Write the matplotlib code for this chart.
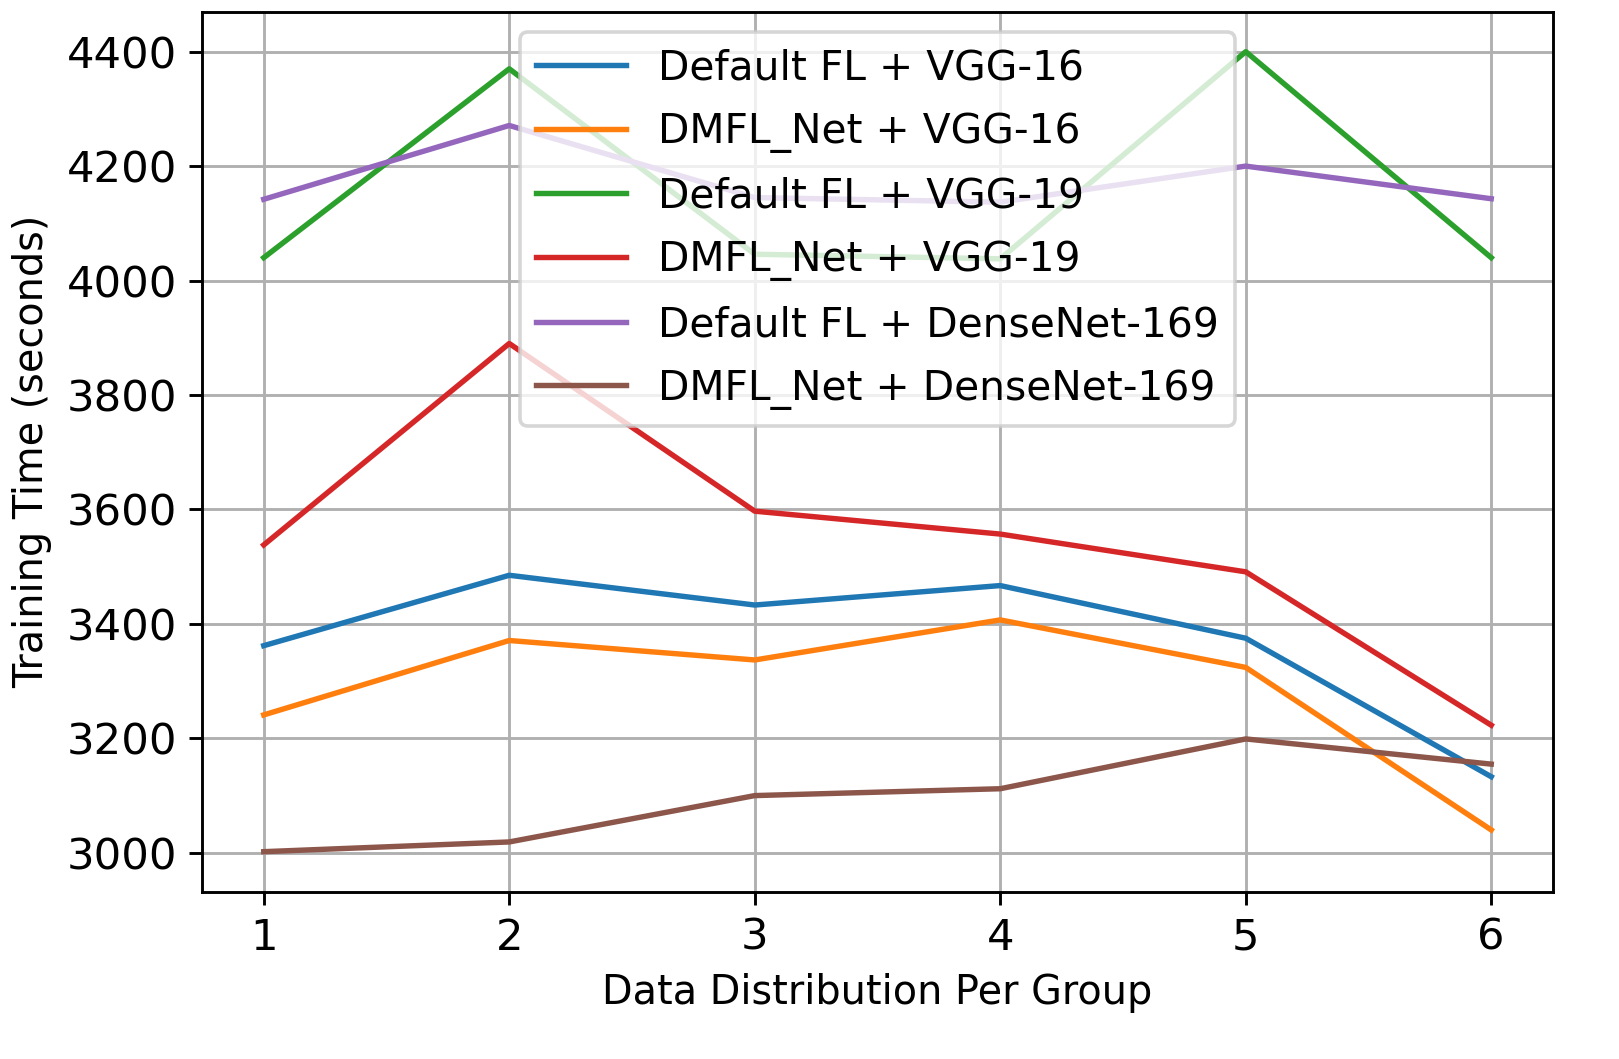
import matplotlib
matplotlib.use("Agg")
import matplotlib.pyplot as plt

# data distribution groups on x axis
groups = [1, 2, 3, 4, 5, 6]

# training time (seconds) per method
default_vgg16 = [3362, 3485, 3433, 3467, 3375, 3133]
dmfl_vgg16 = [3241, 3371, 3337, 3407, 3324, 3040]
default_vgg19 = [4040, 4370, 4046, 4038, 4400, 4040]
dmfl_vgg19 = [3538, 3890, 3597, 3557, 3491, 3223]
default_densenet = [4142, 4271, 4145, 4137, 4200, 4143]
dmfl_densenet = [3002, 3019, 3100, 3112, 3199, 3155]

labels = ['Default FL + VGG-16', 'DMFL_Net + VGG-16',
          'Default FL + VGG-19', 'DMFL_Net + VGG-19',
          'Default FL + DenseNet-169', 'DMFL_Net + DenseNet-169']

series = [default_vgg16, dmfl_vgg16, default_vgg19,
          dmfl_vgg19, default_densenet, dmfl_densenet]

plt.rcParams['xtick.labelsize'] = 12
plt.rcParams['ytick.labelsize'] = 12
plt.rcParams['axes.labelsize'] = 11

fig = plt.figure(figsize=(1619 / 260, 1059 / 260), dpi=260)
ax = fig.add_axes([0.125, 0.158, 0.834, 0.831])

for ys, lab in zip(series, labels):
    ax.plot(groups, ys, label=lab)

ax.set_xlabel('Data Distribution Per Group')
ax.set_ylabel('Training Time (seconds)')
ax.grid(True)
ax.legend(loc='upper center', fontsize=11.3, labelspacing=0.58, handlelength=2.2)

fig.savefig('out.png', dpi=260)
